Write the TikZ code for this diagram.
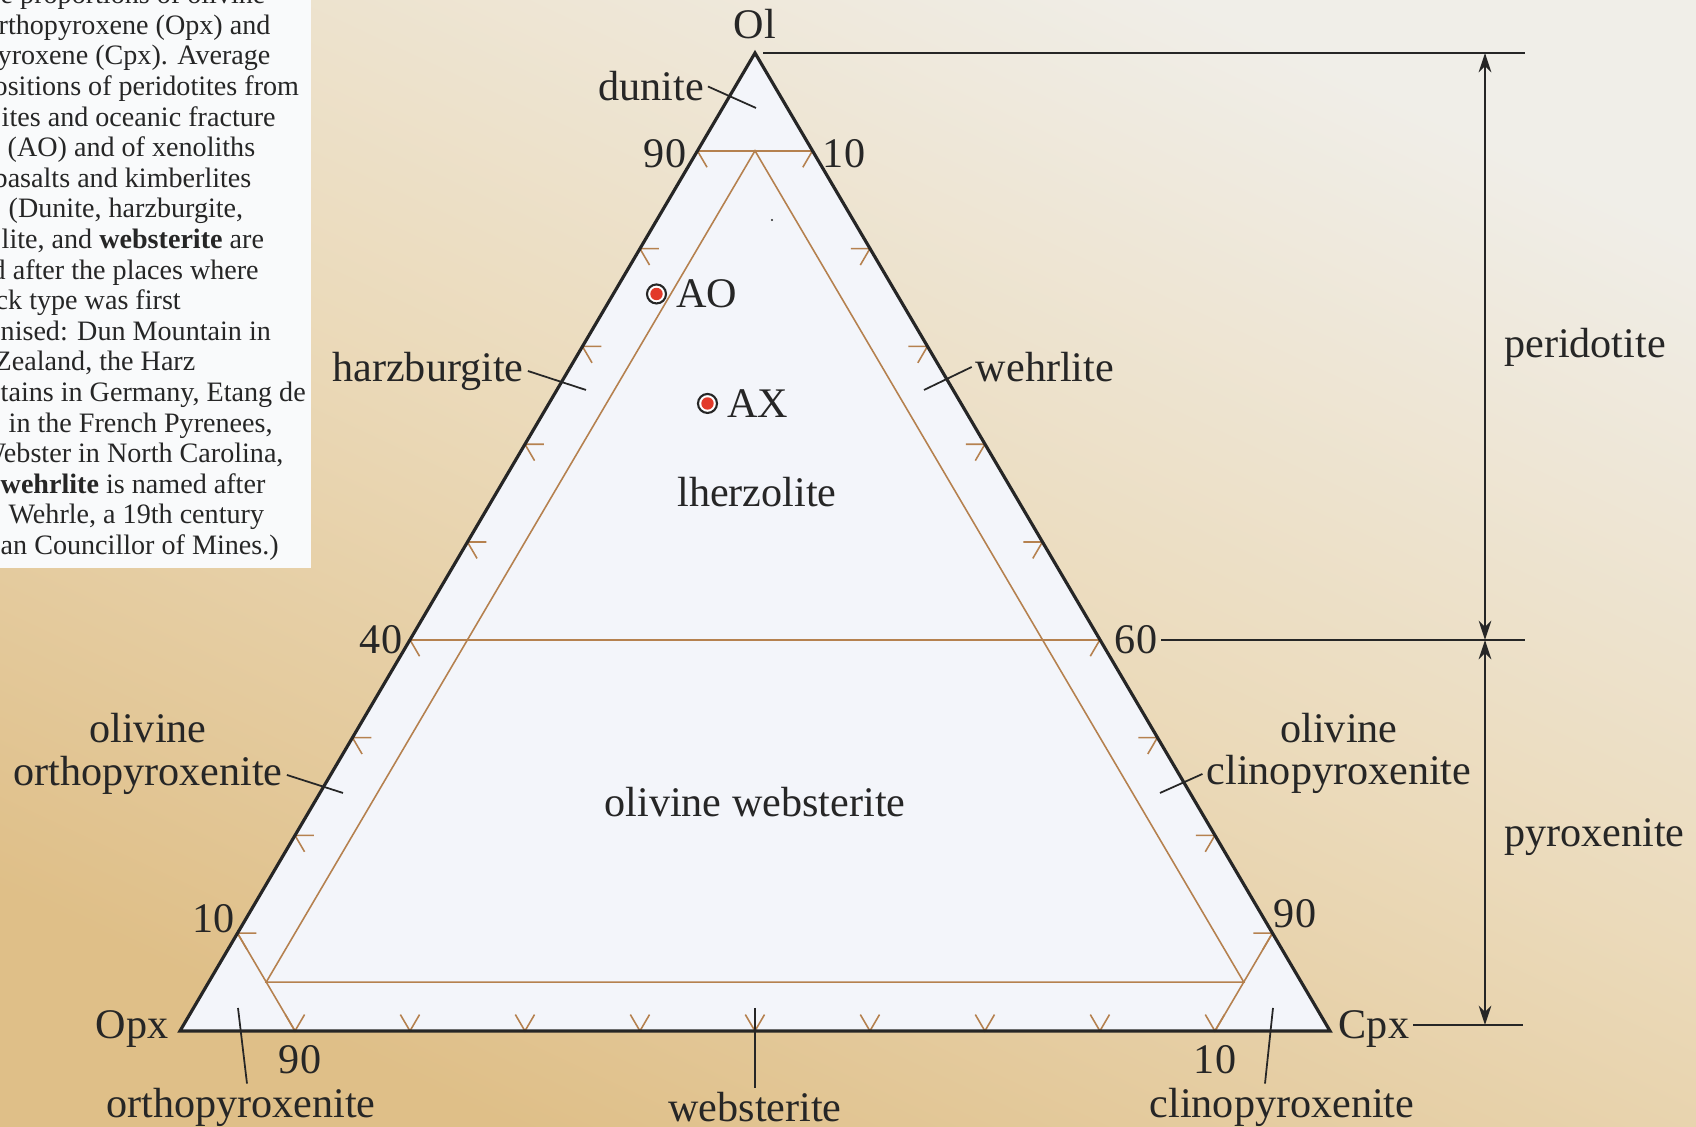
\documentclass[tikz,border=0pt]{standalone}
\usepackage{fontspec}
\setmainfont{Liberation Serif}
\usetikzlibrary{arrows.meta, positioning, calc}
\definecolor{rockdark}{HTML}{262626}
\definecolor{rockgrid}{HTML}{B5814F}
\definecolor{rockfill}{HTML}{F3F5FA}
\definecolor{rockred}{HTML}{E23A2A}
\definecolor{bgtop}{HTML}{F0EEE8}
\definecolor{bgmid}{HTML}{EBDABA}
\definecolor{bgbot}{HTML}{DFBF88}
\definecolor{boxwhite}{HTML}{F9FAFB}

\begin{document}
\begin{tikzpicture}[
  lbl/.style={font=\fontsize{12}{13}\selectfont, text=rockdark, inner sep=1pt},
  boxtext/.style={font=\fontsize{8}{9}\selectfont, text=rockdark, inner sep=0pt, anchor=base west},
  leader/.style={rockdark, line width=0.5pt},
  gridline/.style={rockgrid, line width=0.45pt},
  tickmark/.style={rockgrid, line width=0.45pt},
  scaleline/.style={rockdark, line width=0.5pt},
  sample/.style={circle, draw=rockdark, fill=white, line width=0.6pt, minimum size=0.19cm, inner sep=0pt}
]
  \useasboundingbox (0,0) rectangle (16.96,11.27);

  % Paper background
  \shade[top color=bgtop, bottom color=bgbot, middle color=bgmid, shading angle=-25]
    (0,0) rectangle (16.96,11.27);

  % Caption box (cut at the left)
  \fill[boxwhite] (0,5.59) rectangle (3.11,11.27);
  \begin{scope}
    \clip (0,5.59) rectangle (3.11,11.27);
    \foreach \dx/\txt [count=\k] in {
      0/{e proportions of olivine},
      -0.02/{rthopyroxene (Opx) and},
      -0.03/{yroxene (Cpx). Average},
      -0.07/{ositions of peridotites from},
      0.01/{ites and oceanic fracture},
      0.07/{(AO) and of xenoliths},
      -0.07/{basalts and kimberlites},
      0.08/{(Dunite, harzburgite,},
      0.01/{lite, and \textbf{websterite} are},
      -0.09/{d after the places where},
      -0.05/{ck type was first},
      0/{nised: Dun Mountain in},
      -0.06/{Zealand, the Harz},
      0/{tains in Germany, Etang de},
      0.08/{in the French Pyrenees,},
      -0.21/{Webster in North Carolina,},
      0/{\textbf{wehrlite} is named after},
      0.08/{Wehrle, a 19th century},
      0/{an Councillor of Mines.)}}
      \node[boxtext] (cap\k) at (\dx, {11.539-0.306*\k}) {\txt};
  \end{scope}

  % Corners of the triangle
  \coordinate (vol) at (7.55,10.74);
  \coordinate (vopx) at (1.80,0.96);
  \coordinate (vcpx) at (13.30,0.96);

  \fill[rockfill] (vopx) -- (vcpx) -- (vol) -- cycle;

  % Field boundaries
  \draw[gridline] (barycentric cs:vol=0.9,vopx=0.1) -- (barycentric cs:vol=0.9,vcpx=0.1);
  \draw[gridline] (barycentric cs:vol=0.4,vopx=0.6) -- (barycentric cs:vol=0.4,vcpx=0.6);
  \draw[gridline] (barycentric cs:vol=0.1,vopx=0.9) -- (barycentric cs:vopx=0.9,vcpx=0.1);
  \draw[gridline] (barycentric cs:vol=0.1,vcpx=0.9) -- (barycentric cs:vopx=0.1,vcpx=0.9);
  \draw[gridline] (barycentric cs:vol=0.9,vopx=0.05,vcpx=0.05)
    -- (barycentric cs:vol=0.05,vopx=0.9,vcpx=0.05)
    -- (barycentric cs:vol=0.05,vopx=0.05,vcpx=0.9) -- cycle;

  % Ticks every 10%
  \foreach \i [evaluate=\i as \j using int(10-\i)] in {1,...,9} {
    \draw[tickmark] (barycentric cs:vol=\i,vopx=\j) ++(0.19,0) -- ++(-0.19,0) -- ++(0.096,-0.164);
    \draw[tickmark] (barycentric cs:vol=\i,vcpx=\j) ++(-0.19,0) -- ++(0.19,0) -- ++(-0.096,-0.164);
    \draw[tickmark] (barycentric cs:vopx=\i,vcpx=\j) ++(-0.096,0.164) -- ++(0.096,-0.164) -- ++(0.096,0.164);
  }

  \draw[rockdark, line width=0.9pt] (vopx) -- (vcpx) -- (vol) -- cycle;
  \fill[rockdark] (7.72,9.07) circle (0.012);

  % Corner and axis labels
  \node[lbl] (ol) at (7.55,11.03) {Ol};
  \node[lbl] (opx) at (1.32,0.98) {Opx};
  \node[lbl] (cpx) at (13.74,0.98) {Cpx};
  \node[lbl] (n90l) at (6.65,9.73) {90};
  \node[lbl] (n10r) at (8.44,9.73) {10};
  \node[lbl] (n40) at (3.81,4.87) {40};
  \node[lbl] (n60) at (11.36,4.87) {60};
  \node[lbl] (n10l) at (2.14,2.08) {10};
  \node[lbl] (n90r) at (12.95,2.13) {90};
  \node[lbl] (n90b) at (3.00,0.67) {90};
  \node[lbl] (n10b) at (12.15,0.67) {10};

  % Rock names
  \node[lbl] (dun) at (6.51,10.405) {dunite};
  \node[lbl] (harz) at (4.28,7.56) {harzburgite};
  \node[lbl] (wehr) at (10.45,7.60) {wehrlite};
  \node[lbl] (lherz) at (7.57,6.35) {lherzolite};
  \node[lbl] (oweb) at (7.55,3.245) {olivine websterite};
  \node[lbl] (oopxa) at (1.48,3.99) {olivine};
  \node[lbl] (oopx) at (1.48,3.52) {orthopyroxenite};
  \node[lbl] (ocpxa) at (13.39,3.99) {olivine};
  \node[lbl] (ocpx) at (13.39,3.53) {clinopyroxenite};
  \node[lbl] (orpx) at (2.41,0.20) {orthopyroxenite};
  \node[lbl] (webs) at (7.55,0.20) {websterite};
  \node[lbl] (clpx) at (12.82,0.20) {clinopyroxenite};

  % Leaders
  \coordinate (dunpt) at (7.56,10.19);
  \coordinate (harzpt) at (5.86,7.37);
  \coordinate (wehrpt) at (9.24,7.37);
  \coordinate (oopxpt) at (3.43,3.34);
  \coordinate (ocpxpt) at (11.60,3.34);
  \coordinate (orpxpt) at (2.38,1.19);
  \coordinate (webspt) at (7.55,1.19);
  \coordinate (clpxpt) at (12.73,1.19);
  \draw[leader] (dun.east) -- (dunpt);
  \draw[leader] (harz.east) -- (harzpt);
  \draw[leader] (wehr.west) -- (wehrpt);
  \draw[leader] (oopx.east) -- (oopxpt);
  \draw[leader] (ocpx.west) -- (ocpxpt);
  \draw[leader] (orpxpt) -- ([xshift=0.06cm]orpx.north);
  \draw[leader] (webspt) -- (webs.north);
  \draw[leader] (clpxpt) -- ([xshift=-0.17cm]clpx.north);

  % Average compositions
  \node[sample] (ao) at (6.565,8.33) {};
  \fill[rockred] (ao) circle (0.062);
  \node[lbl, right=0.5mm of ao] (aotxt) {AO};
  \node[sample] (ax) at (7.075,7.235) {};
  \fill[rockred] (ax) circle (0.062);
  \node[lbl, right=0.5mm of ax] (axtxt) {AX};

  % Peridotite / pyroxenite scale
  \coordinate (pt1) at (15.25,10.74);
  \coordinate (pt2) at (15.25,4.87);
  \coordinate (pt3) at (15.23,1.02);
  \coordinate (sc1) at (14.85,10.74);
  \coordinate (sc2) at (14.85,4.87);
  \coordinate (sc3) at (14.85,1.02);
  \draw[scaleline] ([xshift=0.08cm]vol) -- (pt1);
  \draw[scaleline] (n60.east) -- (pt2);
  \draw[scaleline] (cpx.east |- pt3) -- (pt3);
  \draw[scaleline, >={Stealth[length=5.5pt,width=3.6pt]}, <->] (sc1) -- (sc2);
  \draw[scaleline, >={Stealth[length=5.5pt,width=3.6pt]}, <->] (sc2) -- (sc3);
  \node[lbl, anchor=west] (perid) at (15.00,7.80) {peridotite};
  \node[lbl, anchor=west] (pyrox) at (15.00,2.90) {pyroxenite};
\end{tikzpicture}
\end{document}
